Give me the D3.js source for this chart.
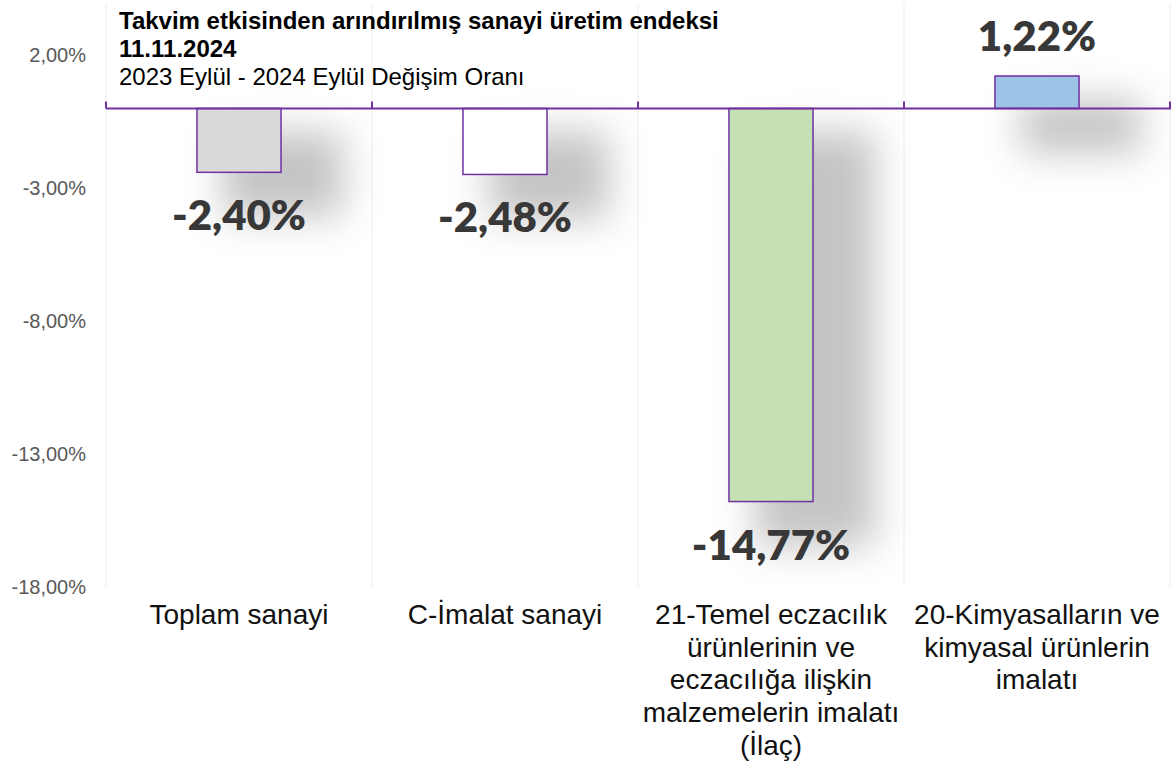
<!DOCTYPE html>
<html>
<head>
<meta charset="utf-8">
<script src="https://cdn.jsdelivr.net/npm/d3@7"></script>
<style>
  html, body { margin: 0; padding: 0; background: #ffffff; }
  svg { display: block; }
</style>
</head>
<body>
<svg id="chart" width="1171" height="761"></svg>
<script>
// ---- data ----
const categories = [
  "Toplam sanayi",
  "C-İmalat sanayi",
  "21-Temel eczacılık ürünlerinin ve eczacılığa ilişkin malzemelerin imalatı (İlaç)",
  "20-Kimyasalların ve kimyasal ürünlerin imalatı"
];
const categoryLines = [
  ["Toplam sanayi"],
  ["C-İmalat sanayi"],
  ["21-Temel eczacılık", "ürünlerinin ve", "eczacılığa ilişkin", "malzemelerin imalatı", "(İlaç)"],
  ["20-Kimyasalların ve", "kimyasal ürünlerin", "imalatı"]
];
const values = [-2.40, -2.48, -14.77, 1.22];
const valueLabels = ["-2,40%", "-2,48%", "-14,77%", "1,22%"];
const barColors = ["#d9d9d9", "#ffffff", "#c5e0b4", "#9dc3e6"];
const yTicks = [2, -3, -8, -13, -18];
const yTickLabels = ["2,00%", "-3,00%", "-8,00%", "-13,00%", "-18,00%"];
const titleLines = [
  "Takvim etkisinden arındırılmış sanayi üretim endeksi",
  "11.11.2024",
  "2023 Eylül - 2024 Eylül Değişim Oranı"
];

// ---- layout ----
const svg = d3.select("#chart");
const purple = "#7030A0";

const x = d3.scaleBand().domain(categories).range([106, 1170]).padding(0);
const y = d3.scaleLinear().domain([-18, 4]).range([587.5, 2]);
const barW = x.bandwidth() * 0.316;

const defs = svg.append("defs");
const f = defs.append("filter").attr("id", "shadow")
  .attr("filterUnits", "userSpaceOnUse")
  .attr("x", 0).attr("y", 0).attr("width", 1171).attr("height", 761);
f.append("feGaussianBlur").attr("in", "SourceAlpha").attr("stdDeviation", 19).attr("result", "b");
f.append("feOffset").attr("in", "b").attr("dx", 44).attr("dy", 34).attr("result", "o");
f.append("feFlood").attr("flood-color", "#000").attr("flood-opacity", 0.23).attr("result", "c");
f.append("feComposite").attr("in", "c").attr("in2", "o").attr("operator", "in");

// vertical gridlines at category boundaries
const bounds = categories.map(c => x(c)).concat([x.range()[1]]);
svg.append("g").selectAll("line").data(bounds).join("line")
  .attr("x1", d => d).attr("x2", d => d)
  .attr("y1", y(4) + 1).attr("y2", y(-18))
  .attr("stroke", "#eeeeee").attr("stroke-width", 1);

// y axis labels
const yAxis = d3.axisLeft(y).tickValues(yTicks)
  .tickFormat((d, i) => yTickLabels[i]).tickSize(0).tickPadding(0);
const yg = svg.append("g").attr("transform", "translate(86,0)").call(yAxis);
yg.select(".domain").remove();
yg.selectAll("text")
  .attr("font-family", "'Liberation Sans', Arial, sans-serif")
  .attr("font-size", 20).attr("fill", "#595959");

// title
svg.append("g").selectAll("text").data(titleLines).join("text")
  .attr("x", 119)
  .attr("y", (d, i) => 28.5 + i * 28.3)
  .attr("font-family", "'Liberation Sans', Arial, sans-serif")
  .attr("font-size", 24)
  .attr("font-weight", (d, i) => i < 2 ? "bold" : "normal")
  .attr("fill", "#000")
  .text(d => d);

// shadows (slightly enlarged, blurred, offset)
const grow = 18;
svg.append("g").selectAll("rect").data(values).join("rect")
  .attr("x", (d, i) => x(categories[i]) + (x.bandwidth() - barW) / 2 - grow)
  .attr("y", d => y(Math.max(0, d)) - grow * 0.6)
  .attr("width", barW + 2 * grow)
  .attr("height", d => Math.abs(y(d) - y(0)) + grow * 1.2)
  .attr("fill", "#000")
  .attr("filter", "url(#shadow)");

// bars
svg.append("g").selectAll("rect").data(values).join("rect")
  .attr("x", (d, i) => x(categories[i]) + (x.bandwidth() - barW) / 2)
  .attr("y", d => y(Math.max(0, d)))
  .attr("width", barW)
  .attr("height", d => Math.abs(y(d) - y(0)))
  .attr("fill", (d, i) => barColors[i])
  .attr("stroke", purple).attr("stroke-width", 1.5);

// x axis line with upward ticks
svg.append("line")
  .attr("x1", x.range()[0]).attr("x2", 1171)
  .attr("y1", y(0)).attr("y2", y(0))
  .attr("stroke", purple).attr("stroke-width", 2);
svg.append("g").selectAll("line").data(bounds).join("line")
  .attr("x1", d => d).attr("x2", d => d)
  .attr("y1", y(0)).attr("y2", y(0) - 7)
  .attr("stroke", purple).attr("stroke-width", 2);

// value labels
svg.append("g").selectAll("text").data(values).join("text")
  .attr("x", (d, i) => x(categories[i]) + x.bandwidth() / 2)
  .attr("y", d => d < 0 ? y(d) + 58 : y(d) - 25)
  .attr("text-anchor", "middle")
  .attr("font-family", "Lato, 'Open Sans', sans-serif")
  .attr("font-weight", 800)
  .attr("font-size", 42)
  .attr("fill", "#383838")
  .text((d, i) => valueLabels[i]);

// category labels
const cg = svg.append("g").selectAll("text").data(categories).join("text")
  .attr("x", d => x(d) + x.bandwidth() / 2)
  .attr("y", 624)
  .attr("text-anchor", "middle")
  .attr("font-family", "'Liberation Sans', Arial, sans-serif")
  .attr("font-size", 28)
  .attr("fill", "#111");
cg.selectAll("tspan").data((d, i) => categoryLines[i]).join("tspan")
  .attr("x", function() { return d3.select(this.parentNode).attr("x"); })
  .attr("dy", (d, i) => i === 0 ? 0 : 32.7)
  .text(d => d);
</script>
</body>
</html>
